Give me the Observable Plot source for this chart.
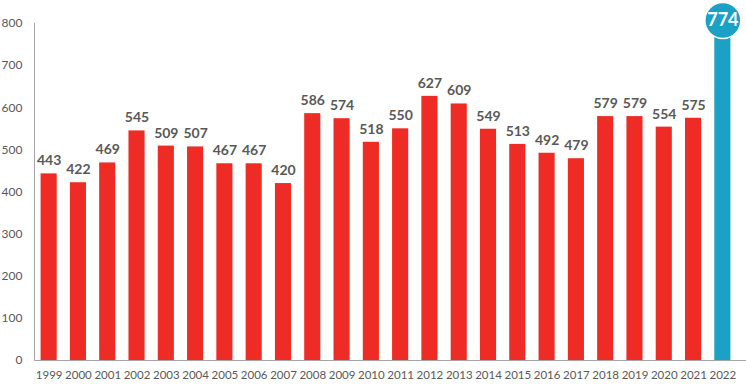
<!DOCTYPE html>
<html>
<head>
<meta charset="utf-8">
<script src="https://cdn.jsdelivr.net/npm/d3@7"></script>
<script src="https://cdn.jsdelivr.net/npm/@observablehq/plot@0.6"></script>
<style>
  html, body { margin: 0; padding: 0; background: #fff; }
  #chart { width: 746px; height: 384px; }
</style>
</head>
<body>
<div id="chart"></div>
<script>
const years = ["1999","2000","2001","2002","2003","2004","2005","2006","2007","2008","2009","2010","2011","2012","2013","2014","2015","2016","2017","2018","2019","2020","2021","2022"];
const values = [443,422,469,545,509,507,467,467,420,586,574,518,550,627,609,549,513,492,479,579,579,554,575,774];
const yTicks = [0,100,200,300,400,500,600,700,800];
const highlightYear = "2022";

const data = years.map((y, i) => ({year: y, value: values[i]}));
const normal = data.filter(d => d.year !== highlightYear);
const highlight = data.filter(d => d.year === highlightYear);

const red = "#ee2b24";
const teal = "#1ba1c6";
const textCol = "#595959";
const axisCol = "#a6a6a6";
const font = "Lato, 'Open Sans', sans-serif";

const leftAxisLine = (index, scales, values, dims) => {
  const line = document.createElementNS("http://www.w3.org/2000/svg", "line");
  const x = dims.marginLeft + 0.5;
  line.setAttribute("x1", x);
  line.setAttribute("x2", x);
  line.setAttribute("y1", scales.y(800));
  line.setAttribute("y2", scales.y(0));
  line.setAttribute("stroke", axisCol);
  line.setAttribute("stroke-width", 1);
  return line;
};

const chart = Plot.plot({
  width: 746,
  height: 384,
  marginLeft: 34,
  marginRight: 9,
  marginTop: 23,
  marginBottom: 24,
  style: {fontFamily: font, background: "#fff"},
  x: {domain: years, paddingInner: 0.45, paddingOuter: 0.225, round: false},
  y: {domain: [0, 800]},
  marks: [
    Plot.barY(normal, {x: "year", y: "value", fill: red}),
    Plot.barY(highlight, {x: "year", y: "value", fill: teal}),
    Plot.ruleY([0], {stroke: axisCol, strokeWidth: 1, insetRight: -9}),
    leftAxisLine,
    Plot.axisY(yTicks, {tickSize: 0, tickPadding: 12, fill: textCol, fontSize: 12, label: null}),
    Plot.axisX({tickSize: 0, tickPadding: 10, fill: textCol, fontSize: 11.5, label: null}),
    Plot.text(normal, {x: "year", y: "value", text: d => String(d.value), dy: -13, fill: textCol, fontWeight: "bold", fontSize: 14}),
    Plot.dot(highlight, {x: "year", y: "value", dy: -14, r: 18, fill: teal, stroke: "#fff", strokeWidth: 1.5}),
    Plot.text(highlight, {x: "year", y: "value", text: d => String(d.value), dy: -14, fill: "#fff", fontWeight: "bold", fontSize: 18})
  ]
});
document.getElementById("chart").appendChild(chart);
</script>
</body>
</html>
